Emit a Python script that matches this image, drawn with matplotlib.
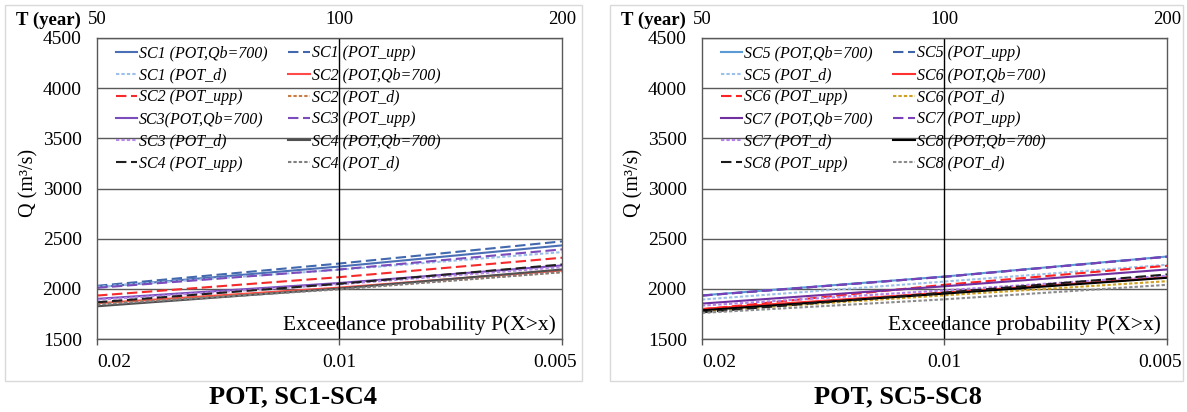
import numpy as np
import matplotlib
matplotlib.use('Agg')
import matplotlib.pyplot as plt
import matplotlib.patches as mpatches
import matplotlib.transforms as mtrans

plt.rcParams['font.family'] = ['Liberation Serif', 'DejaVu Serif']

# exceedance probabilities and matching return periods
prob = [0.02, 0.01, 0.005]
prob_labels = ['0.02', '0.01', '0.005']
T_labels = ['50', '100', '200']

# ---- panel 1 : SC1-SC4 (Q in m3/s at p = 0.02, 0.01, 0.005)
sc1_qb = [2016, 2222, 2433]
sc1_upp = [2030, 2252, 2473]
sc1_d = [2020, 2190, 2366]
sc2_qb = [1856, 2012, 2183]
sc2_upp = [1933, 2116, 2310]
sc2_d = [1850, 2000, 2166]
sc3_qb = [1900, 2058, 2233]
sc3_upp = [2010, 2193, 2393]
sc3_d = [1890, 2045, 2216]
sc4_qb = [1826, 2003, 2193]
sc4_upp = [1866, 2050, 2243]
sc4_d = [1843, 1995, 2166]

# ---- panel 2 : SC5-SC8
sc5_qb = [1935, 2122, 2322]
sc5_upp = [1932, 2120, 2320]
sc5_d = [1893, 2072, 2240]
sc6_qb = [1800, 1962, 2116]
sc6_upp = [1795, 2040, 2230]
sc6_d = [1776, 1935, 2076]
sc7_qb = [1853, 2025, 2193]
sc7_upp = [1933, 2120, 2320]
sc7_d = [1833, 1985, 2130]
sc8_qb = [1786, 1952, 2110]
sc8_upp = [1766, 1962, 2143]
sc8_d = [1760, 1895, 2040]

SOLID = '-'
DASH = (0, (5, 2.2))
DOT = (0, (1.6, 1.0))

left_series = [
    ('SC1 (POT,Qb=700)', sc1_qb, '#4a6fb5', SOLID),
    ('SC1 (POT_upp)', sc1_upp, '#4268ad', DASH),
    ('SC1 (POT_d)', sc1_d, '#9dc0e8', DOT),
    ('SC2 (POT,Qb=700)', sc2_qb, '#ff4a4a', SOLID),
    ('SC2 (POT_upp)', sc2_upp, '#f52a2a', DASH),
    ('SC2 (POT_d)', sc2_d, '#cf7a40', DOT),
    ('SC3(POT,Qb=700)', sc3_qb, '#7a4cbc', SOLID),
    ('SC3 (POT_upp)', sc3_upp, '#7a4cbc', DASH),
    ('SC3 (POT_d)', sc3_d, '#b48ae6', DOT),
    ('SC4 (POT,Qb=700)', sc4_qb, '#505050', SOLID),
    ('SC4 (POT_upp)', sc4_upp, '#202020', DASH),
    ('SC4 (POT_d)', sc4_d, '#7f7f7f', DOT),
]

right_series = [
    ('SC5 (POT,Qb=700)', sc5_qb, '#5b9bd5', SOLID),
    ('SC5 (POT_upp)', sc5_upp, '#3f64a8', DASH),
    ('SC5 (POT_d)', sc5_d, '#9dc0e8', DOT),
    ('SC6 (POT,Qb=700)', sc6_qb, '#ff3030', SOLID),
    ('SC6 (POT_upp)', sc6_upp, '#ff2020', DASH),
    ('SC6 (POT_d)', sc6_d, '#d0a020', DOT),
    ('SC7 (POT,Qb=700)', sc7_qb, '#7030a0', SOLID),
    ('SC7 (POT_upp)', sc7_upp, '#7a40b8', DASH),
    ('SC7 (POT_d)', sc7_d, '#b07fe8', DOT),
    ('SC8 (POT,Qb=700)', sc8_qb, '#000000', SOLID),
    ('SC8 (POT_upp)', sc8_upp, '#1a1a1a', DASH),
    ('SC8 (POT_d)', sc8_d, '#8c8c8c', DOT),
]

# x axis of the original chart: 0.02 -> 0.01 -> 0.005 spaced unevenly
_lp = np.log10([0.005, 0.01, 0.02])
_pos = [0.0, 223.0, 465.0]


def fwd(p):
    p = np.clip(np.asarray(p, dtype=float), 1e-6, None)
    return np.interp(np.log10(p), _lp, _pos)


def inv(x):
    return 10 ** np.interp(np.asarray(x, dtype=float), _pos, _lp)


W, H = 1187, 412
fig = plt.figure(figsize=(W / 100, H / 100), dpi=100)

grid_col = '#595959'


def panel(x0, series, title, title_x, border):
    ax = fig.add_axes([x0 / W, 1 - 339 / H, 465 / W, 301 / H])
    # light grey chart-area border
    fig.add_artist(mpatches.Rectangle((border[0] / W, 1 - border[3] / H),
                                      (border[2] - border[0]) / W,
                                      (border[3] - border[1]) / H,
                                      transform=fig.transFigure, fill=False,
                                      edgecolor='#d9d9d9', lw=1.0))
    handles = []
    for lab, q, c, ls in series:
        h, = ax.plot(prob, q, color=c, ls=ls, lw=1.5, label=lab)
        handles.append(h)

    ax.set_xscale('function', functions=(fwd, inv))
    ax.set_xlim(0.02, 0.005)
    ax.set_ylim(1500, 4500)
    ax.set_yticks(np.arange(1500, 4501, 500))
    ax.set_xticks(prob)
    ax.set_xticklabels(prob_labels)
    ax.tick_params(axis='y', length=0, pad=11, labelsize=14)
    ax.tick_params(axis='x', length=4, width=1, color=grid_col, pad=7,
                   labelsize=14)
    xl = ax.xaxis.get_majorticklabels()
    xl[0].set_horizontalalignment('left')
    xl[-1].set_transform(xl[-1].get_transform() +
                         mtrans.ScaledTranslation(-7 / 100, 0,
                                                  fig.dpi_scale_trans))
    for s in ax.spines.values():
        s.set_color(grid_col)
        s.set_linewidth(1.0)
    ax.grid(axis='y', color=grid_col, lw=1.0)
    ax.axvline(0.01, color='black', lw=1.0)
    ax.set_axisbelow(True)

    ax.set_ylabel('Q (m³/s)', fontsize=14.5)
    ax.yaxis.set_label_coords(-0.125, 0.52)

    ax.text(-0.105, 1.06, 'T (year)', transform=ax.transAxes, fontsize=13.5,
            fontweight='bold', ha='center', va='center')
    for p, t in zip(prob, T_labels):
        ax.text(p, 1.06, t, transform=ax.get_xaxis_transform(), fontsize=13.5,
                ha='center', va='center')

    ax.text(0.987, 0.03, 'Exceedance probability P(X>x)',
            transform=ax.transAxes, fontsize=15.5, ha='right', va='baseline')

    # Excel fills the legend row by row
    order = handles[0::2] + handles[1::2]
    ax.legend(order, [h.get_label() for h in order], ncol=2,
              loc='upper left', bbox_to_anchor=(0.02, 1.008), frameon=False,
              prop={'style': 'italic', 'size': 11.5}, handlelength=1.35,
              handletextpad=0.1, columnspacing=1.3, labelspacing=0.38,
              borderaxespad=0.2)

    fig.text(title_x / W, 1 - 397 / H, title, fontsize=19, fontweight='bold',
             ha='center', va='center')
    return ax


panel(97, left_series, 'POT, SC1-SC4', 293, (5, 5, 582, 381))
panel(702, right_series, 'POT, SC5-SC8', 898, (610, 5, 1183, 381))

fig.savefig('out.png', dpi=100)
